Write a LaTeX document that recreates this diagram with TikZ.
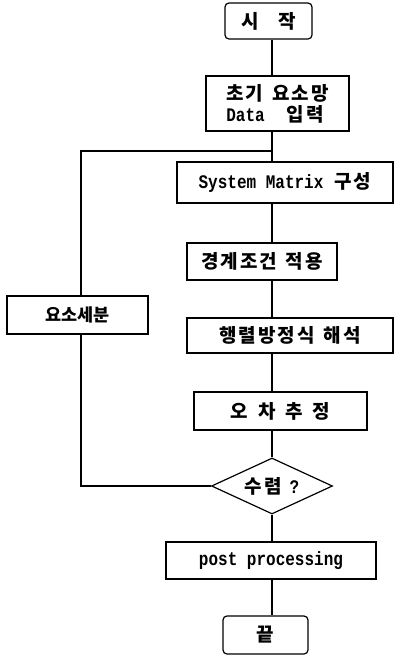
\documentclass[tikz,border=0pt]{standalone}
\usepackage{fontspec}
\usepackage{graphicx}
\setmainfont{Noto Sans CJK KR}
\newfontfamily\monofam{Liberation Mono}
\newcommand\lat[1]{\scalebox{1}[1.2]{\monofam\fontsize{16}{19}\selectfont #1}}
\newcommand\gap{\hspace{9pt}}
\newdimen\lsk \lsk=2pt
\def\ls#1{\lsA#1\relax}
\def\lsA#1#2{#1\ifx\relax#2\else\kern\lsk\expandafter\lsA\expandafter#2\fi}
\usetikzlibrary{shapes.geometric}
\begin{document}
\begin{tikzpicture}[x=1pt,y=-1pt,
  every node/.style={font=\fontsize{19}{22}\selectfont\bfseries, inner sep=0pt},
  box/.style={draw, line width=1.2pt, rectangle},
  term/.style={box, rounded corners=4pt},
  dec/.style={draw, line width=1.2pt, diamond, aspect=2.16, minimum width=121pt, minimum height=56pt},
  conn/.style={line width=1.2pt}]
\useasboundingbox (0,0) rectangle (394,657);
\coordinate (ax) at (272,0);
\node[term, minimum width=87pt, minimum height=36pt] (start) at (268.5,21) {시\hspace{20pt}작};
\node[box, minimum width=143pt, minimum height=55pt, align=left] (init) at (277.5,103.5) {\ls{초기}\gap\ls{요소망}\\[-1pt]\lat{Data}\hspace{22pt}\ls{입력}};
\node[box, minimum width=216pt, minimum height=41pt] (sm) at (285,182.5) {\lat{System Matrix}\hspace{11pt}\ls{구성}};
\node[box, minimum width=150pt, minimum height=37pt] (bc) at (262,261.5) {\ls{경계조건}\gap\ls{적용}};
\node[box, minimum width=206pt, minimum height=35pt] (me) at (290,335.5) {\ls{행렬방정식}\gap\ls{해석}};
\node[box, minimum width=141pt, minimum height=38pt, font=\fontsize{17.5}{21}\selectfont\bfseries] (ref) at (77.5,315) {요소세분};
\node[box, minimum width=173pt, minimum height=38pt] (err) at (280.5,411) {오\hspace{10pt}차\hspace{10pt}추\hspace{10pt}정};
\node[dec] (conv) at (272,486) {\ls{수렴}\hspace{8pt}\lat{?}};
\node[box, minimum width=210pt, minimum height=37pt] (post) at (271,560.5) {\lat{post processing}};
\node[term, minimum width=85pt, minimum height=38pt] (fin) at (265.5,635) {끝};
\coordinate (j) at (272,151);
\coordinate (tl) at (81,151);
\draw[conn] (start.south -| ax) -- (init.north -| ax);
\draw[conn] (init.south -| ax) -- (j) -- (sm.north -| ax);
\draw[conn] (sm.south -| ax) -- (bc.north -| ax);
\draw[conn] (bc.south -| ax) -- (me.north -| ax);
\draw[conn] (me.south -| ax) -- (err.north -| ax);
\draw[conn] (err.south -| ax) -- (conv.north);
\draw[conn] (conv.south) -- (post.north -| ax);
\draw[conn] (post.south -| ax) -- (fin.north -| ax);
\draw[conn] (j) -- (tl) -- (ref.north -| tl);
\draw[conn] (ref.south -| tl) |- (conv.west);
\end{tikzpicture}
\end{document}
